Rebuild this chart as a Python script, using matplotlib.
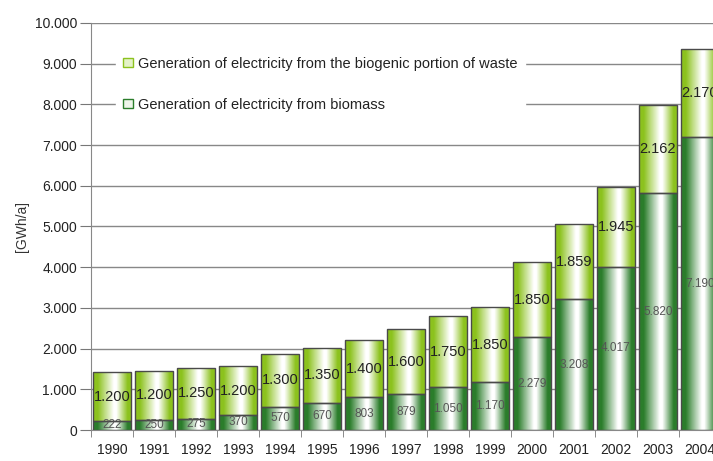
import numpy as np
import matplotlib
matplotlib.use("Agg")
import matplotlib.pyplot as plt
from matplotlib.colors import LinearSegmentedColormap
from matplotlib.patches import Patch
from matplotlib.ticker import FuncFormatter, FixedLocator

plt.rcParams['font.family'] = ['Liberation Sans', 'DejaVu Sans']

# electricity generation in GWh/a
years = ['1990', '1991', '1992', '1993', '1994', '1995', '1996', '1997',
         '1998', '1999', '2000', '2001', '2002', '2003', '2004']
biomass = [222, 250, 275, 370, 570, 670, 803, 879, 1050, 1170,
           2279, 3208, 4017, 5820, 7190]
waste = [1200, 1200, 1250, 1200, 1300, 1350, 1400, 1600, 1750, 1850,
         1850, 1859, 1945, 2162, 2170]

label_waste = 'Generation of electricity from the biogenic portion of waste'
label_biomass = 'Generation of electricity from biomass'

dark_green = '#2b7d2b'
light_green = '#8cc21e'


def german(v, pos=None):
    return f'{int(v):,}'.replace(',', '.')


def edge_cmap(color):
    return LinearSegmentedColormap.from_list(
        'g', [(0, color), (0.12, color), (0.55, 'white'), (0.62, 'white'),
              (0.92, color), (1, color)])


cmap_bio = edge_cmap(dark_green)
cmap_waste = edge_cmap(light_green)
grad = np.linspace(0, 1, 64).reshape(1, -1)

fig = plt.figure(figsize=(7.13, 4.61), dpi=100)
ax = fig.add_axes([91 / 713, 31 / 461, 630 / 713, 407 / 461])

x = np.arange(len(years))
width = 0.9
bars_bio = ax.bar(x, biomass, width, facecolor='none', edgecolor='#4a4a4a',
                  linewidth=1, zorder=3)
bars_waste = ax.bar(x, waste, width, bottom=biomass, facecolor='none',
                    edgecolor='#4a4a4a', linewidth=1, zorder=3)

# fill each bar with a horizontal gradient, clipped to the bar outline
for bars, cmap in ((bars_bio, cmap_bio), (bars_waste, cmap_waste)):
    for b in bars:
        x0, y0 = b.get_x(), b.get_y()
        im = ax.imshow(grad, cmap=cmap, aspect='auto', interpolation='bilinear',
                       extent=[x0, x0 + b.get_width(), y0, y0 + b.get_height()],
                       zorder=2)
        im.set_clip_path(b)

for i in x:
    ax.text(i, biomass[i] / 2, german(biomass[i]), ha='center', va='center',
            fontsize=8.5, color='#555555', zorder=4)
    ax.text(i, biomass[i] + waste[i] / 2, german(waste[i]), ha='center',
            va='center', fontsize=10.5, color='#222222', zorder=4)

ax.set_xlim(-0.5, len(years) - 0.5)
ax.set_ylim(0, 10000)
ax.set_yticks(range(0, 10001, 1000))
ax.yaxis.set_major_formatter(FuncFormatter(german))
ax.set_xticks(x)
ax.set_xticklabels(years)
ax.xaxis.set_minor_locator(FixedLocator(np.arange(-0.5, len(years), 1)))
ax.tick_params(axis='x', which='major', length=0, pad=9, labelsize=10,
               colors='#222222')
ax.tick_params(axis='x', which='minor', length=5, color='#777777')
ax.tick_params(axis='y', length=8, color='#777777', labelsize=10,
               labelcolor='#222222', pad=2)
ax.grid(axis='y', color='#888888', linewidth=1, zorder=0)
ax.set_axisbelow(True)
for side in ('top', 'right'):
    ax.spines[side].set_visible(False)
for side in ('left', 'bottom'):
    ax.spines[side].set_color('#888888')

ax.set_ylabel('[GWh/a]', fontsize=10, color='#333333')
ax.yaxis.set_label_coords(-0.098, 0.5)

handles = [Patch(facecolor='#e4f2c8', edgecolor=light_green, label=label_waste),
           Patch(facecolor='#eef5ea', edgecolor=dark_green, label=label_biomass)]
leg = ax.legend(handles=handles, loc='upper left', bbox_to_anchor=(0.04, 0.935),
                frameon=True, fontsize=10.5, labelspacing=1.85,
                handlelength=0.65, handleheight=0.65, handletextpad=0.35,
                borderpad=0.5, borderaxespad=0)
leg.get_frame().set_facecolor('white')
leg.get_frame().set_edgecolor('white')
leg.get_frame().set_alpha(1)
leg.set_zorder(5)
for t in leg.get_texts():
    t.set_color('#222222')

fig.savefig('out.png', dpi=100)
